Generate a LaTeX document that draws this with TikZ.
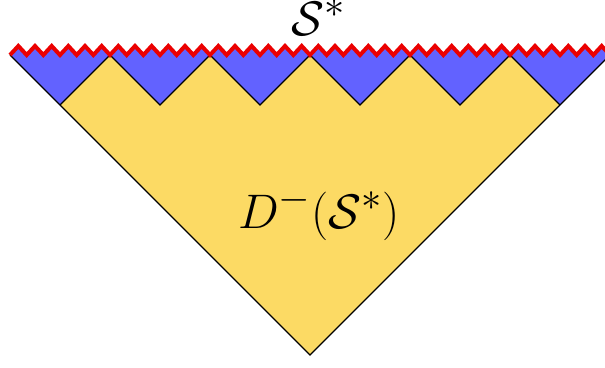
\documentclass[tikz,border=0pt]{standalone}
\definecolor{bluefill}{RGB}{98,98,255}
\definecolor{yellowfill}{RGB}{252,218,100}
\definecolor{zigred}{RGB}{235,0,0}
\tikzset{
  edge/.style={draw=black, line width=1.4pt, line join=miter},
  zig/.style={draw=zigred, line width=4pt, line join=miter},
  biglabel/.style={inner sep=0pt, font=\Huge, scale=1.95}
}
\begin{document}
\begin{tikzpicture}[x=1pt,y=-1pt]
\useasboundingbox (0,0) rectangle (605,367);
% blue region: under the zigzag, down to the outer triangle
\fill[bluefill] (10,55)
  \foreach \k in {1,...,72} { -- ({10+\k*25/3}, {55-9*mod(\k,2)}) }
  -- (310,355) -- cycle;
% yellow region
\fill[yellowfill] (60,105) -- (110,55) -- (160,105) -- (210,55) -- (260,105) -- (310,55)
  -- (360,105) -- (410,55) -- (460,105) -- (510,55) -- (560,105) -- (310,355) -- cycle;
% black edges
\draw[edge] (10,55) -- (310,355) -- (610,55);
\draw[edge] (60,105) -- (110,55) -- (160,105) -- (210,55) -- (260,105) -- (310,55)
  -- (360,105) -- (410,55) -- (460,105) -- (510,55) -- (560,105);
% red zigzag
\draw[zig] (10,55)
  \foreach \k in {1,...,72} { -- ({10+\k*25/3}, {55-9*mod(\k,2)}) };
% labels
\node[biglabel] (top) at (319,17) {$\mathcal{S}^*$};
\node[biglabel] (dom) at (319,214) {$D^-(\mathcal{S}^*)$};
\end{tikzpicture}
\end{document}
